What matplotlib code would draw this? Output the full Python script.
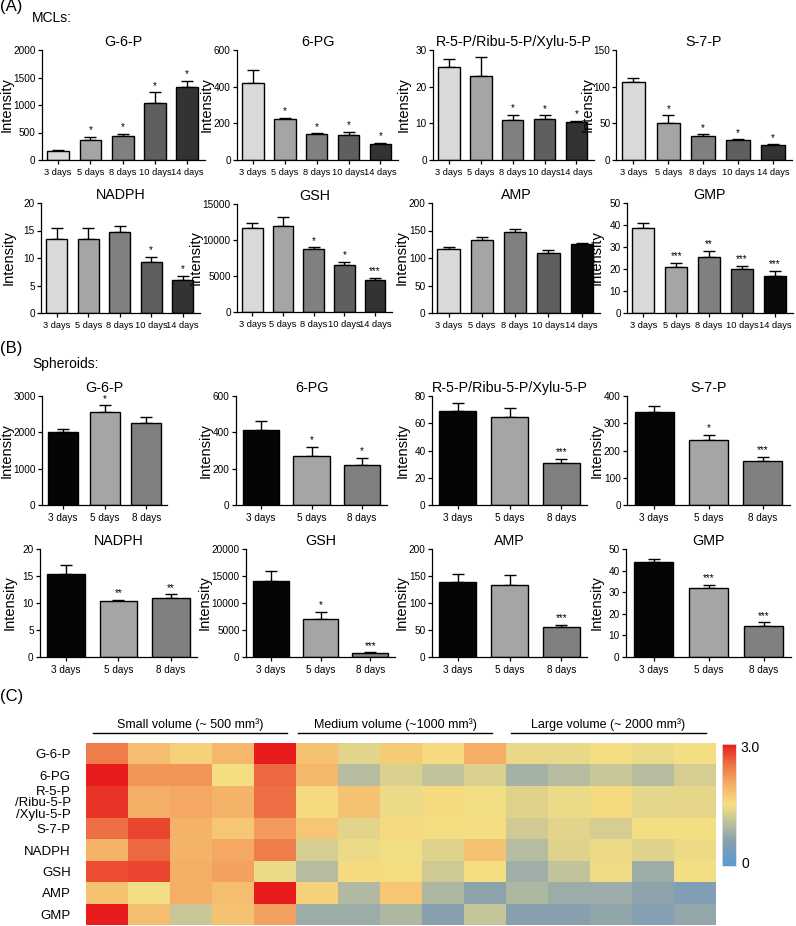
import matplotlib
matplotlib.use("Agg")
import matplotlib.pyplot as plt
import numpy as np
from matplotlib.colors import LinearSegmentedColormap

plt.rcParams["font.family"] = ["Liberation Sans", "DejaVu Sans"]

W, H = 796, 926

days5 = ["3 days", "5 days", "8 days", "10 days", "14 days"]
days3 = ["3 days", "5 days", "8 days"]

colors_mcl = ["#d9d9d9", "#a5a5a8", "#808080", "#5f5f5f", "#333333"]
colors_mcl_dark = ["#d9d9d9", "#a5a5a8", "#808080", "#5f5f5f", "#080808"]
colors_sph = ["#050505", "#a5a5a8", "#808080"]

# (A) MCLs
mcl_names = ["G-6-P", "6-PG", "R-5-P/Ribu-5-P/Xylu-5-P", "S-7-P",
             "NADPH", "GSH", "AMP", "GMP"]
mcl_mean = [
    [160, 360, 430, 1045, 1335],
    [422, 224, 140, 138, 88],
    [25.5, 23.0, 11.0, 11.2, 10.3],
    [106, 50, 33, 27, 20],
    [13.4, 13.5, 14.8, 9.3, 6.0],
    [11600, 11900, 8700, 6500, 4500],
    [116, 132, 148, 109, 125],
    [38.7, 21.0, 25.6, 19.8, 16.6],
]
mcl_sem = [
    [20, 60, 50, 185, 100],
    [70, 6, 5, 14, 7],
    [2.1, 5.0, 1.3, 1.0, 0.3],
    [6, 11, 2, 1, 1.5],
    [2.0, 2.0, 1.1, 0.9, 0.7],
    [700, 1300, 300, 500, 200],
    [4, 6, 5, 5, 2],
    [2.1, 1.7, 2.7, 1.7, 2.7],
]
mcl_stars = [
    ["", "*", "*", "*", "*"],
    ["", "*", "*", "*", "*"],
    ["", "", "*", "*", "*"],
    ["", "*", "*", "*", "*"],
    ["", "", "", "*", "*"],
    ["", "", "*", "*", "***"],
    ["", "", "", "", ""],
    ["", "***", "**", "***", "***"],
]
mcl_ymax = [2000, 600, 30, 150, 20, 15000, 200, 50]
mcl_step = [500, 200, 10, 50, 5, 5000, 50, 10]

# (B) Spheroids
sph_mean = [
    [2020, 2560, 2270],
    [415, 270, 222],
    [69, 64.5, 31],
    [343, 238, 160],
    [15.4, 10.3, 11.0],
    [14100, 7000, 700],
    [139, 133, 55],
    [44.2, 32.0, 14.3],
]
sph_sem = [
    [80, 180, 150],
    [50, 50, 38],
    [6, 6.5, 3],
    [22, 20, 16],
    [1.6, 0.3, 0.6],
    [1800, 1400, 150],
    [14, 18, 5],
    [1.0, 1.5, 1.7],
]
sph_stars = [
    ["", "*", ""],
    ["", "*", "*"],
    ["", "", "***"],
    ["", "*", "***"],
    ["", "**", "**"],
    ["", "*", "***"],
    ["", "", "***"],
    ["", "***", "***"],
]
sph_ymax = [3000, 600, 80, 400, 20, 20000, 200, 50]
sph_step = [1000, 200, 20, 100, 5, 5000, 50, 10]

# (C) heatmap
heat_rows = ["G-6-P", "6-PG", "R-5-P\n/Ribu-5-P\n/Xylu-5-P", "S-7-P",
             "NADPH", "GSH", "AMP", "GMP"]
heat_row_height = [1, 1, 1.5, 1, 1, 1, 1, 1]
heat_vals = np.array([
    [2.4, 1.85, 1.65, 1.9, 3.0, 1.8, 1.35, 1.7, 1.55, 2.0, 1.4, 1.4, 1.5, 1.42, 1.48],
    [3.0, 2.2, 2.2, 1.5, 2.55, 1.9, 1.0, 1.3, 1.1, 1.3, 0.85, 1.0, 1.15, 1.0, 1.25],
    [2.85, 2.0, 2.05, 1.95, 2.5, 1.55, 1.8, 1.42, 1.55, 1.47, 1.33, 1.42, 1.55, 1.36, 1.38],
    [2.5, 2.75, 1.95, 1.75, 2.15, 1.75, 1.35, 1.55, 1.5, 1.5, 1.2, 1.35, 1.25, 1.48, 1.48],
    [1.95, 2.55, 1.95, 2.05, 2.4, 1.25, 1.42, 1.47, 1.33, 1.8, 1.0, 1.33, 1.43, 1.33, 1.43],
    [2.7, 2.75, 2.0, 2.1, 1.42, 1.0, 1.55, 1.53, 1.2, 1.5, 0.8, 1.1, 1.45, 0.78, 1.48],
    [1.8, 1.47, 2.0, 1.85, 3.0, 1.65, 0.97, 1.75, 0.93, 0.65, 0.93, 0.78, 0.78, 0.65, 0.5],
    [3.0, 1.85, 1.15, 1.8, 2.1, 0.78, 0.78, 0.93, 0.6, 1.12, 0.6, 0.6, 0.68, 0.55, 0.7],
])
groups = ["Small volume (~ 500 mm³)", "Medium volume (~1000 mm³)",
          "Large volume (~ 2000 mm³)"]


def add_ax(fig, left, top, right, bottom):
    return fig.add_axes([left / W, 1 - bottom / H, (right - left) / W, (bottom - top) / H])


def bar_panel(ax, labels, mean, sem, stars, colors, ymax, step, title,
              width, xmax, ylab_off, xfs, ypad=1.5):
    x = np.arange(len(labels))
    ax.bar(x, mean, width=width, color=colors, edgecolor="black", linewidth=1.0, zorder=2)
    ax.errorbar(x, mean, yerr=[np.zeros(len(x)), sem], fmt="none", ecolor="black",
                elinewidth=1.0, capsize=4, capthick=1.0, zorder=1)
    for xi, m, s, st in zip(x, mean, sem, stars):
        if st:
            ax.text(xi, m + s + ymax * 0.015, st, ha="center", va="bottom", fontsize=7)
    ax.set_xlim(-0.5, xmax)
    ax.set_ylim(0, ymax)
    ax.set_yticks(np.arange(0, ymax + step / 2, step))
    ax.set_xticks(x)
    ax.set_xticklabels(labels, fontsize=xfs)
    ax.tick_params(axis="y", labelsize=7.2, length=3, width=0.9, pad=ypad)
    ax.tick_params(axis="x", length=3, width=0.9, pad=2.5)
    for sp in ["top", "right"]:
        ax.spines[sp].set_visible(False)
    for sp in ["left", "bottom"]:
        ax.spines[sp].set_linewidth(0.9)
    ax.set_title(title, fontsize=10.3, pad=3)
    ax.set_ylabel("Intensity", fontsize=10.5)
    ax.yaxis.set_label_coords(ylab_off, 0.5)


fig = plt.figure(figsize=(W / 100, H / 100), dpi=100)

# panel boxes in pixels: (left, top, right, bottom)
mcl_boxes = [
    (42, 50, 205, 160), (237, 50, 398, 160), (433, 50, 594, 160), (616, 50, 792, 160),
    (41, 203, 200, 313), (237, 204, 392, 312), (432, 203, 600, 313), (627, 203, 793, 313),
]
# distance from y axis to right edge of the "Intensity" label
mcl_lab_px = [28, 23, 22, 21, 25, 34, 23, 23]
mcl_ypad = [1.5, 1.5, 1.5, 1.0, 1.5, 1.5, 1.5, 1.5]
for i in range(8):
    l, t, r, b = mcl_boxes[i]
    ax = add_ax(fig, l, t, r, b)
    cols = colors_mcl_dark if i >= 6 else colors_mcl
    bar_panel(ax, days5, mcl_mean[i], mcl_sem[i], mcl_stars[i], cols,
              mcl_ymax[i], mcl_step[i], mcl_names[i], 0.67, 4.55,
              -mcl_lab_px[i] / (r - l), 6.7, mcl_ypad[i])

sph_boxes = [
    (42, 396, 167, 505), (236, 396, 387, 505), (432, 396, 587, 505), (627, 396, 790, 505),
    (40, 549, 197, 657), (246, 549, 395, 657), (432, 549, 587, 657), (626, 549, 791, 657),
]
sph_lab_px = [28, 23, 22, 23, 23, 34, 23, 22]
for i in range(8):
    l, t, r, b = sph_boxes[i]
    ax = add_ax(fig, l, t, r, b)
    bar_panel(ax, days3, sph_mean[i], sph_sem[i], sph_stars[i], colors_sph,
              sph_ymax[i], sph_step[i], mcl_names[i], 0.72, 2.5,
              -sph_lab_px[i] / (r - l), 7.2)

# panel letters
fig.text(0 / W, 1 - 7 / H, "(A)", fontsize=12, va="center", ha="left")
fig.text(32 / W, 1 - 18 / H, "MCLs:", fontsize=10, va="center", ha="left")
fig.text(0 / W, 1 - 349 / H, "(B)", fontsize=12, va="center", ha="left")
fig.text(32 / W, 1 - 364 / H, "Spheroids:", fontsize=10, va="center", ha="left")
fig.text(0 / W, 1 - 697 / H, "(C)", fontsize=12, va="center", ha="left")

# heatmap
cmap = LinearSegmentedColormap.from_list("bgyr", [
    (0.0, "#5b9bd5"), (0.2, "#88a0ae"), (0.333, "#b5bca0"), (0.5, "#f5df82"),
    (0.667, "#f5ae66"), (0.833, "#ee7044"), (1.0, "#e81c1c")])
hax = add_ax(fig, 86, 743, 716, 925)
yedges = np.concatenate([[0], np.cumsum(heat_row_height)])
xedges = np.arange(heat_vals.shape[1] + 1)
hax.pcolormesh(xedges, yedges, heat_vals, cmap=cmap, vmin=0, vmax=3, shading="flat")
hax.set_xlim(0, heat_vals.shape[1])
hax.set_ylim(yedges[-1], 0)
hax.set_xticks([])
ycent = (yedges[:-1] + yedges[1:]) / 2
hax.set_yticks(ycent)
hax.set_yticklabels(heat_rows, fontsize=9.5, linespacing=0.95)
hax.tick_params(axis="y", length=0, pad=11)
for sp in hax.spines.values():
    sp.set_visible(False)

# group labels with underline
group_lines = [(93, 287), (298, 492), (511, 706)]
for g, (x0, x1) in zip(groups, group_lines):
    fig.add_artist(plt.Line2D([x0 / W, x1 / W], [1 - 733 / H, 1 - 733 / H],
                              color="black", linewidth=1.0))
    fig.text((x0 + x1) / 2 / W, 1 - 725 / H, g, fontsize=9, ha="center", va="center")

# colorbar
cax = add_ax(fig, 722, 744, 736, 866)
grad = np.linspace(0, 3, 256).reshape(-1, 1)
cax.imshow(grad, cmap=cmap, aspect="auto", origin="lower", extent=[0, 1, 0, 3])
cax.set_xticks([])
cax.set_yticks([])
for sp in cax.spines.values():
    sp.set_edgecolor("#dddddd")
    sp.set_linewidth(0.6)
fig.text(740 / W, 1 - 748 / H, "3.0", fontsize=10, ha="left", va="center")
fig.text(741 / W, 1 - 864 / H, "0", fontsize=10, ha="left", va="center")

fig.savefig("out.png", dpi=100)
